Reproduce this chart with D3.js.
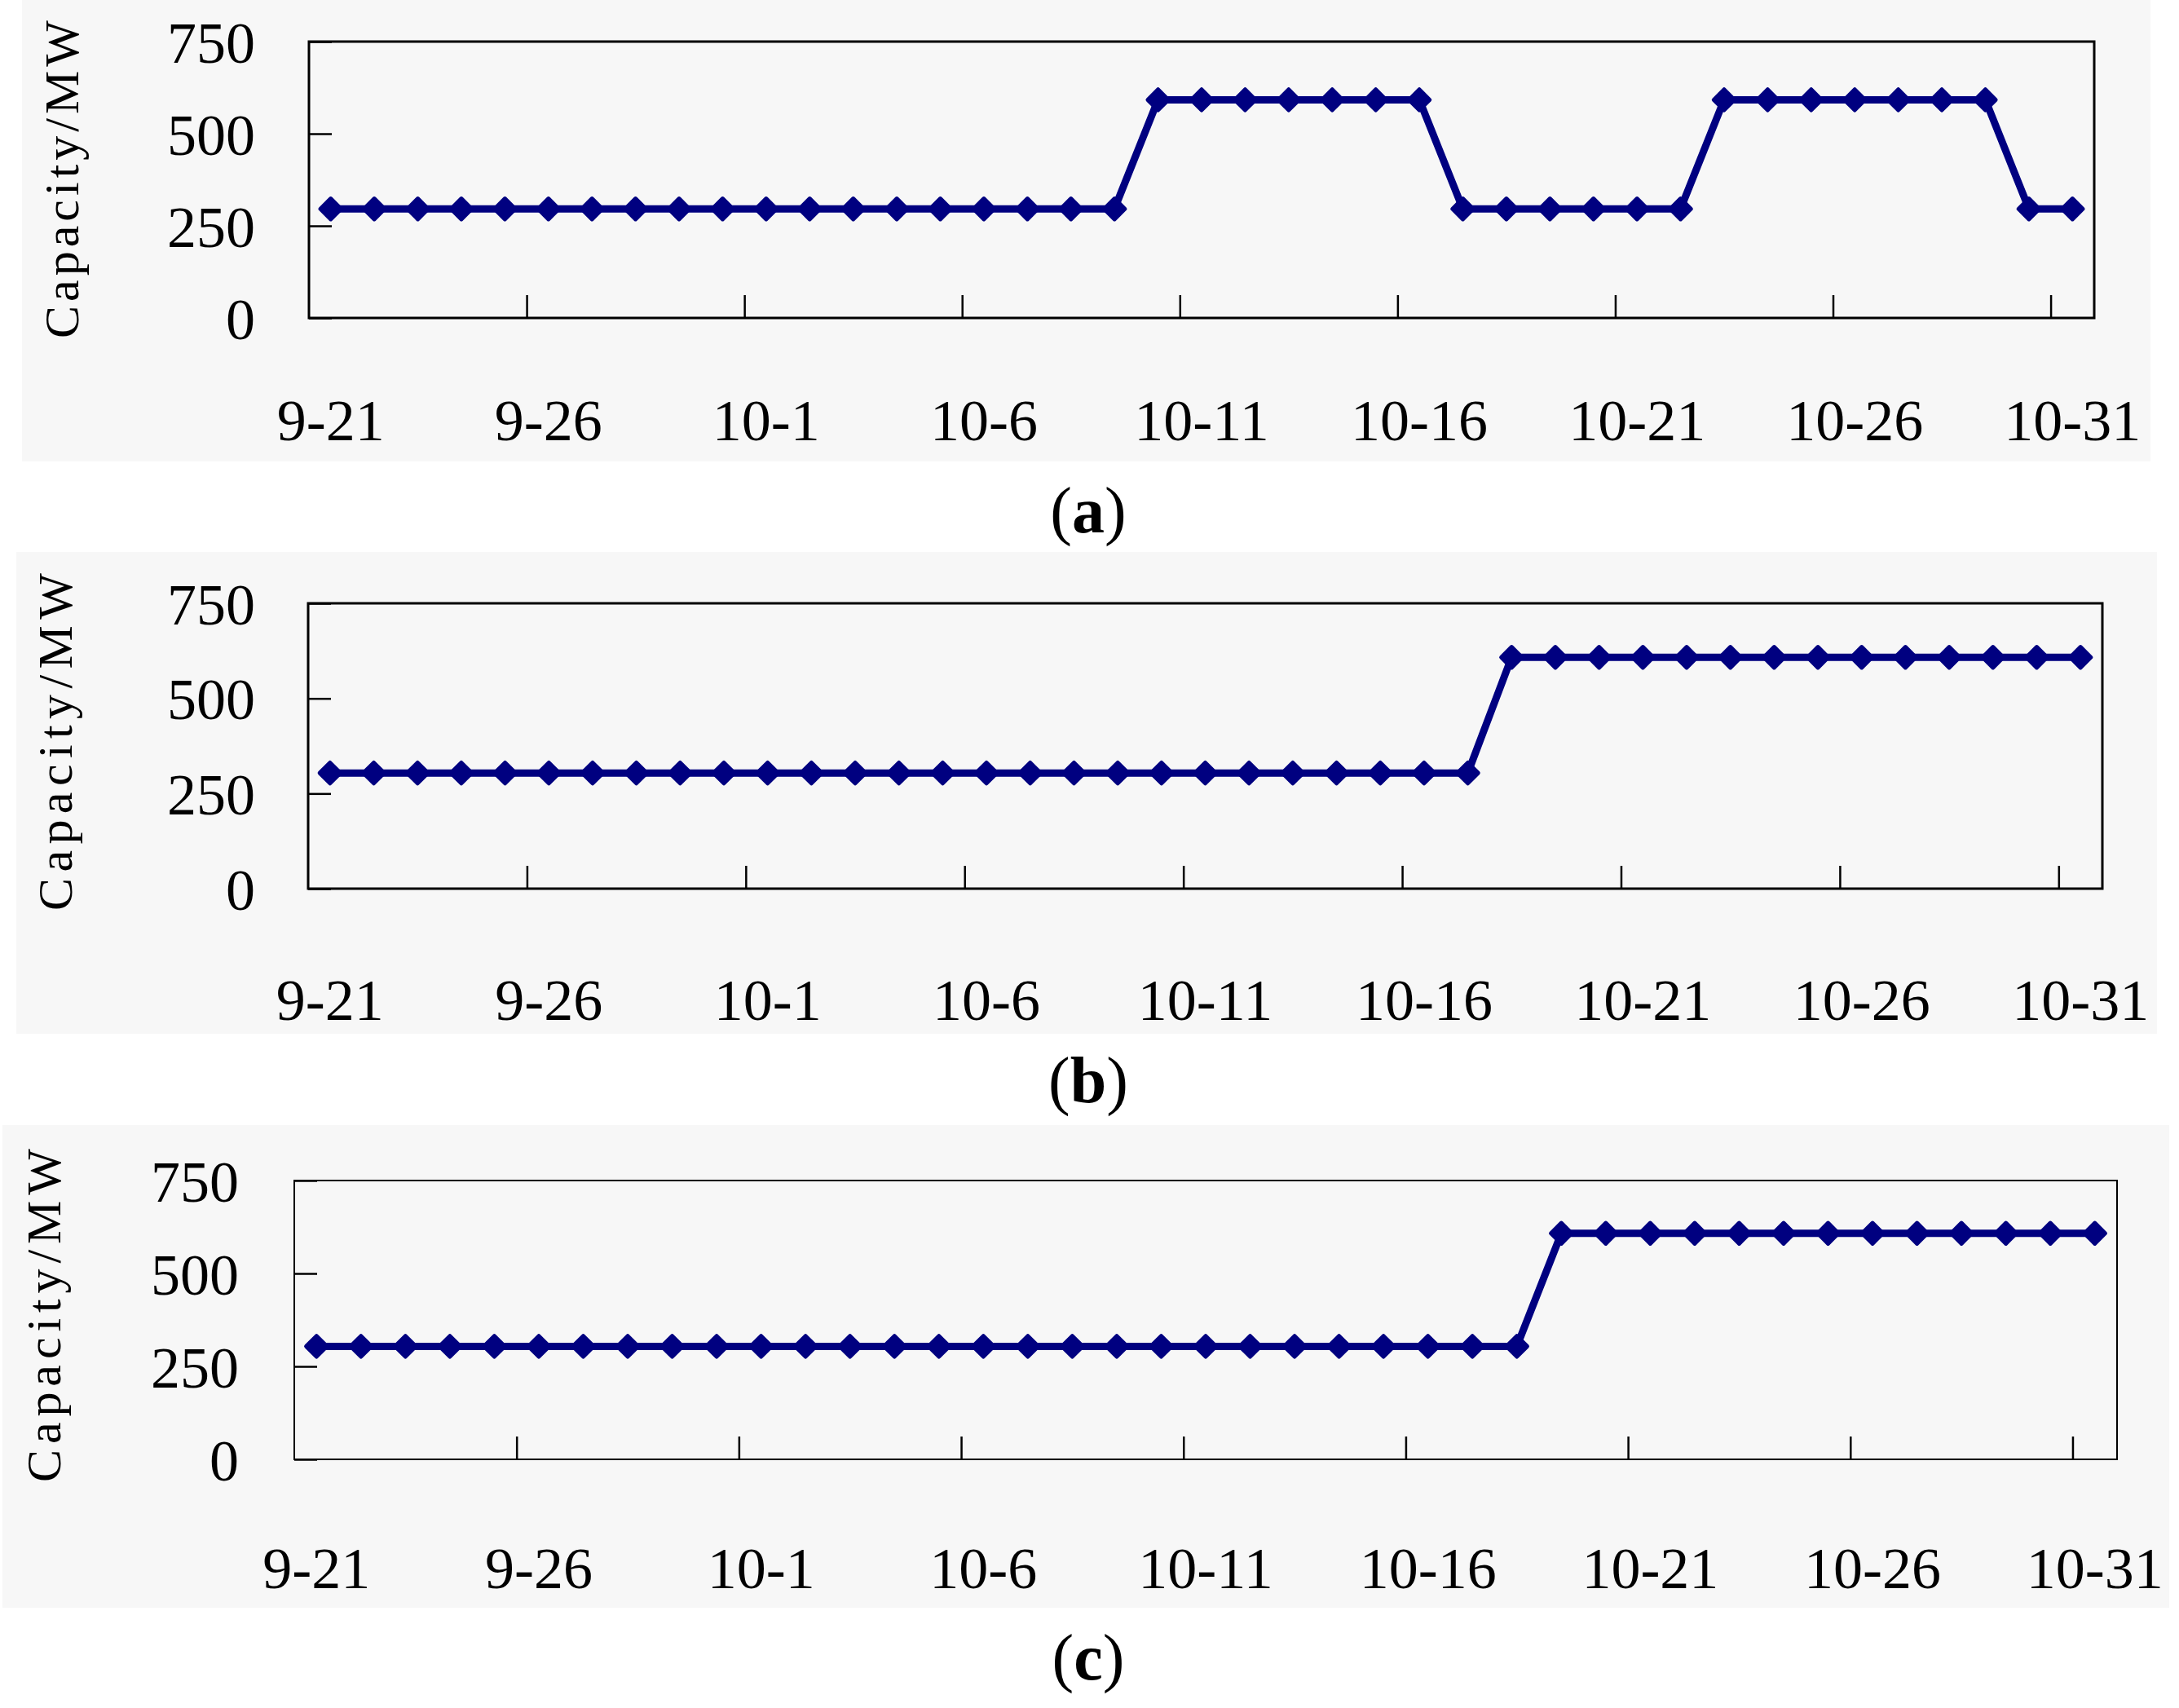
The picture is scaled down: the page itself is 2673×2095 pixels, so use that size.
<!DOCTYPE html>
<html>
<head>
<meta charset="utf-8">
<script src="https://cdn.jsdelivr.net/npm/d3@7"></script>
<style>
  body { margin: 0; background: #fff; }
  svg { display: block; }
</style>
</head>
<body>
<svg id="chart"></svg>
<script>
// categories: one point per day
const dates = ["9-21","9-22","9-23","9-24","9-25","9-26","9-27","9-28","9-29","9-30",
  "10-1","10-2","10-3","10-4","10-5","10-6","10-7","10-8","10-9","10-10",
  "10-11","10-12","10-13","10-14","10-15","10-16","10-17","10-18","10-19","10-20",
  "10-21","10-22","10-23","10-24","10-25","10-26","10-27","10-28","10-29","10-30",
  "10-31"];
const labelDates = ["9-21","9-26","10-1","10-6","10-11","10-16","10-21","10-26","10-31"];
const yTicks = [0, 250, 500, 750];

// capacity (MW)
const capacityA = [296,296,296,296,296,296,296,296,296,296,
  296,296,296,296,296,296,296,296,296,592,
  592,592,592,592,592,592,296,296,296,296,
  296,296,592,592,592,592,592,592,592,296,
  296];
const capacityB = [304,304,304,304,304,304,304,304,304,304,
  304,304,304,304,304,304,304,304,304,304,
  304,304,304,304,304,304,304,608,608,608,
  608,608,608,608,608,608,608,608,608,608,
  608];
const capacityC = [304,304,304,304,304,304,304,304,304,304,
  304,304,304,304,304,304,304,304,304,304,
  304,304,304,304,304,304,304,304,608,608,
  608,608,608,608,608,608,608,608,608,608,
  608];

const yTitle = "Capacity/MW";
const captions = ["a", "b", "c"];

const width = 2673, height = 2095;
const font = "'Liberation Serif', 'Times New Roman', serif";
const navy = "#000080";

const svg = d3.select("#chart")
  .attr("width", width)
  .attr("height", height);

// layout of each panel
const panels = [
  { data: capacityA, bg: [27, 0, 2638, 566], left: 379, right: 2569, top: 51, bottom: 390,
    labelBase: 540, titleX: 96, titleY: 415, titleLen: 390, pad: 66, frame: 3, capY: 653 },
  { data: capacityB, bg: [20, 677, 2646, 1268], left: 378, right: 2579, top: 740, bottom: 1090,
    labelBase: 1251, titleX: 88, titleY: 1117, titleLen: 414, pad: 65, frame: 3, capY: 1352 },
  { data: capacityC, bg: [3, 1380, 2661, 1972], left: 361, right: 2597, top: 1448, bottom: 1790,
    labelBase: 1948, titleX: 74, titleY: 1818, titleLen: 409, pad: 68, frame: 2, capY: 2060 }
];

panels.forEach(function(p, i) {
  const g = svg.append("g").attr("class", "panel");

  g.append("rect")
    .attr("x", p.bg[0])
    .attr("y", p.bg[1])
    .attr("width", p.bg[2] - p.bg[0])
    .attr("height", p.bg[3] - p.bg[1])
    .attr("fill", "#f7f7f7");

  const x = d3.scaleBand()
    .domain(dates)
    .range([p.left, p.right])
    .padding(0);

  const xIdx = d3.scaleLinear()
    .domain([0, dates.length])
    .range([p.left, p.right]);

  const y = d3.scaleLinear()
    .domain([0, 750])
    .range([p.bottom, p.top]);

  // plot frame
  g.append("rect")
    .attr("x", p.left)
    .attr("y", p.top)
    .attr("width", p.right - p.left)
    .attr("height", p.bottom - p.top)
    .attr("fill", "none")
    .attr("stroke", "#000")
    .attr("stroke-width", p.frame);

  // y axis
  const yAxis = g.append("g")
    .attr("transform", `translate(${p.left},0)`)
    .call(d3.axisLeft(y).tickValues(yTicks).tickSize(-28).tickPadding(p.pad));
  yAxis.select(".domain").remove();
  yAxis.selectAll("line").attr("stroke", "#000").attr("stroke-width", 2.5);
  yAxis.selectAll("text")
    .attr("font-family", font)
    .attr("font-size", 72)
    .attr("fill", "#000")
    .attr("dy", "0.35em");

  // x tick marks sit between categories, every 5 days
  const xTicks = g.append("g")
    .attr("transform", `translate(0,${p.bottom})`)
    .call(d3.axisBottom(xIdx).tickValues(d3.range(5, dates.length, 5)).tickSize(-28).tickFormat(""));
  xTicks.select(".domain").remove();
  xTicks.selectAll("line").attr("stroke", "#000").attr("stroke-width", 2.5);

  // x labels under the category centres
  const xLabels = g.append("g")
    .attr("transform", `translate(0,${p.bottom})`)
    .call(d3.axisBottom(x).tickValues(labelDates).tickSize(0));
  xLabels.select(".domain").remove();
  xLabels.selectAll("text")
    .attr("font-family", font)
    .attr("font-size", 72)
    .attr("fill", "#000")
    .attr("y", p.labelBase - p.bottom)
    .attr("dy", 0);

  // axis title, widely spaced like the original
  g.append("text")
    .attr("transform", `translate(${p.titleX},${p.titleY}) rotate(-90)`)
    .attr("font-family", font)
    .attr("font-size", 60)
    .attr("textLength", p.titleLen)
    .attr("lengthAdjust", "spacing")
    .attr("fill", "#000")
    .text(yTitle);

  const cx = d => x(d) + x.bandwidth() / 2;
  const series = dates.map((d, k) => ({ date: d, value: p.data[k] }));

  const line = d3.line()
    .x(d => cx(d.date))
    .y(d => y(d.value));

  g.append("path")
    .datum(series)
    .attr("d", line)
    .attr("fill", "none")
    .attr("stroke", navy)
    .attr("stroke-width", 9)
    .attr("stroke-linejoin", "round");

  const diamond = d3.symbol().type(d3.symbolSquare).size(320);

  g.selectAll(".marker")
    .data(series)
    .enter()
    .append("path")
    .attr("class", "marker")
    .attr("d", diamond)
    .attr("transform", d => `translate(${cx(d.date)},${y(d.value)}) rotate(45)`)
    .attr("fill", navy)
    .attr("stroke", navy)
    .attr("stroke-width", 5)
    .attr("stroke-linejoin", "round");

  // caption (a) / (b) / (c)
  const cap = svg.append("text")
    .attr("x", 1335)
    .attr("y", p.capY)
    .attr("text-anchor", "middle")
    .attr("font-family", font)
    .attr("font-size", 80)
    .attr("fill", "#000");
  cap.append("tspan").text("(");
  cap.append("tspan").attr("font-weight", "bold").text(captions[i]);
  cap.append("tspan").text(")");
});
</script>
</body>
</html>
